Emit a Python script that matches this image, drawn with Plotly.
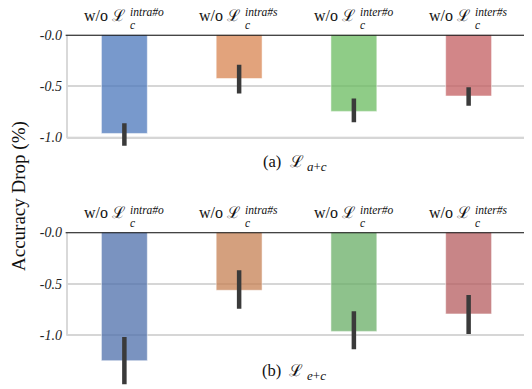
import plotly.graph_objects as go
from plotly.subplots import make_subplots

# ablated contrastive terms (superscripts of L_c)
categories = ["intra#o", "intra#s", "inter#o", "inter#s"]

# (a) L_{a+c}
drop_a = [-0.96, -0.425, -0.745, -0.595]
ci_low_a = [-1.08, -0.57, -0.85, -0.69]
ci_high_a = [-0.86, -0.29, -0.62, -0.51]

# (b) L_{e+c}
drop_b = [-1.25, -0.565, -0.965, -0.795]
ci_low_b = [-1.48, -0.745, -1.14, -0.99]
ci_high_b = [-1.02, -0.37, -0.77, -0.61]

tick_vals = [0.0, -0.5, -1.0]
tick_text = ["-0.0", "-0.5", "-1.0"]

colors_a = ["rgba(75,119,187,0.75)", "rgba(216,132,80,0.75)",
            "rgba(106,187,95,0.75)", "rgba(195,94,96,0.75)"]
colors_b = ["rgba(78,111,171,0.75)", "rgba(198,128,83,0.75)",
            "rgba(104,174,102,0.75)", "rgba(182,92,95,0.75)"]

FONT = "Liberation Serif, DejaVu Serif, serif"
W, H = 532, 389
OFF_X = 8              # page body margin, horizontal
OY, SY = 16.3, 0.975   # vertical page calibration (measured from earlier renders)
L, PW = 67, 459        # plot area left / width as seen on the page


def px_x(page_x):
    return (page_x - L) / PW


def px_y(page_y):
    return 1 - ((page_y - OY) / SY) / H


def shift(px):
    return px / SY


fig = make_subplots(rows=2, cols=1)

# caption y, y of the 0 line, y of the lowest drawn value (page px), y range min
panels = [
    (drop_a, ci_low_a, ci_high_a, colors_a, 1, "(a)", "<i>a</i>+<i>c</i>", 161.5, 36, 148.2, -1.1),
    (drop_b, ci_low_b, ci_high_b, colors_b, 2, "(b)", "<i>e</i>+<i>c</i>", 369.5, 232, 385, -1.5),
]

domains = {}
for vals, lo, hi, cols, row, tag, sub, sub_y, top, bottom, ymin in panels:
    fig.add_trace(go.Bar(
        x=categories, y=vals, width=0.4,
        marker=dict(color=cols, line=dict(color="rgba(255,255,255,0.5)", width=1)),
        error_y=dict(type="data", symmetric=False,
                     array=[h - v for h, v in zip(hi, vals)],
                     arrayminus=[v - l for l, v in zip(lo, vals)],
                     color="#3a3a3a", thickness=4.5, width=0),
        showlegend=False, hoverinfo="skip",
    ), row=row, col=1)

    domains[row] = [px_y(bottom), px_y(top)]

    xr = "x" if row == 1 else "x2"
    yr = "y" if row == 1 else "y2"
    for c in categories:
        fig.add_annotation(text="w/o ℒ", x=c, xref=xr, y=1, yref=yr + " domain",
                           xanchor="right", yanchor="middle", xshift=3, yshift=shift(19),
                           showarrow=False, font=dict(family=FONT, size=16, color="#111"))
        fig.add_annotation(text="<i>" + c + "</i>", x=c, xref=xr, y=1, yref=yr + " domain",
                           xanchor="left", yanchor="middle", xshift=4, yshift=shift(22),
                           showarrow=False, font=dict(family=FONT, size=11.5, color="#111"))
        fig.add_annotation(text="<i>c</i>", x=c, xref=xr, y=1, yref=yr + " domain",
                           xanchor="left", yanchor="middle", xshift=4, yshift=shift(9.5),
                           showarrow=False, font=dict(family=FONT, size=11.5, color="#111"))

    # panel caption, e.g. (a)  L_{a+c}
    fig.add_annotation(text=tag + "\u00a0\u00a0ℒ", x=px_x(306), xref="paper",
                       y=px_y(sub_y), yref="paper", xanchor="right", yanchor="middle",
                       showarrow=False, font=dict(family=FONT, size=16.5, color="#111"))
    fig.add_annotation(text=sub, x=px_x(305), xref="paper",
                       y=px_y(sub_y + 5), yref="paper", xanchor="left", yanchor="middle",
                       showarrow=False, font=dict(family=FONT, size=13, color="#111"))

    # light frame spanning 0 .. -1, black line at 0
    fig.add_shape(type="rect", xref=xr + " domain", x0=0, x1=1, yref=yr, y0=-1.0, y1=0,
                  line=dict(color="#cccccc", width=1.5), layer="below")
    fig.add_shape(type="line", xref=xr + " domain", x0=-0.003, x1=1.003, yref=yr, y0=0, y1=0,
                  line=dict(color="#111", width=2), layer="above")

axis_x = dict(type="category", range=[-0.5, 3.5], showticklabels=False, showgrid=False,
              showline=False, zeroline=False, ticks="", domain=[0, 1])
axis_y = dict(tickvals=tick_vals,
              ticktext=["<i>" + t + "</i>" for t in tick_text],
              tickfont=dict(family=FONT, size=14, color="#222"),
              showgrid=True, gridcolor="#d6d6d6", gridwidth=1.5, zeroline=False,
              showline=False, ticks="", ticklabelstandoff=4)

fig.update_layout(
    width=W, height=H,
    margin=dict(l=L - OFF_X, r=W - (L - OFF_X) - PW, t=0, b=0),
    plot_bgcolor="white", paper_bgcolor="white",
    xaxis=axis_x, xaxis2=axis_x,
    yaxis=dict(axis_y, range=[-1.1, 0.0], domain=domains[1]),
    yaxis2=dict(axis_y, range=[-1.5, 0.0], domain=domains[2]),
)

fig.add_annotation(text="Accuracy Drop (%)", textangle=-90, x=px_x(19), xref="paper",
                   y=px_y(196), yref="paper", xanchor="center", yanchor="middle",
                   showarrow=False, font=dict(family=FONT, size=19, color="#111"))

fig.write_html("out.html")
